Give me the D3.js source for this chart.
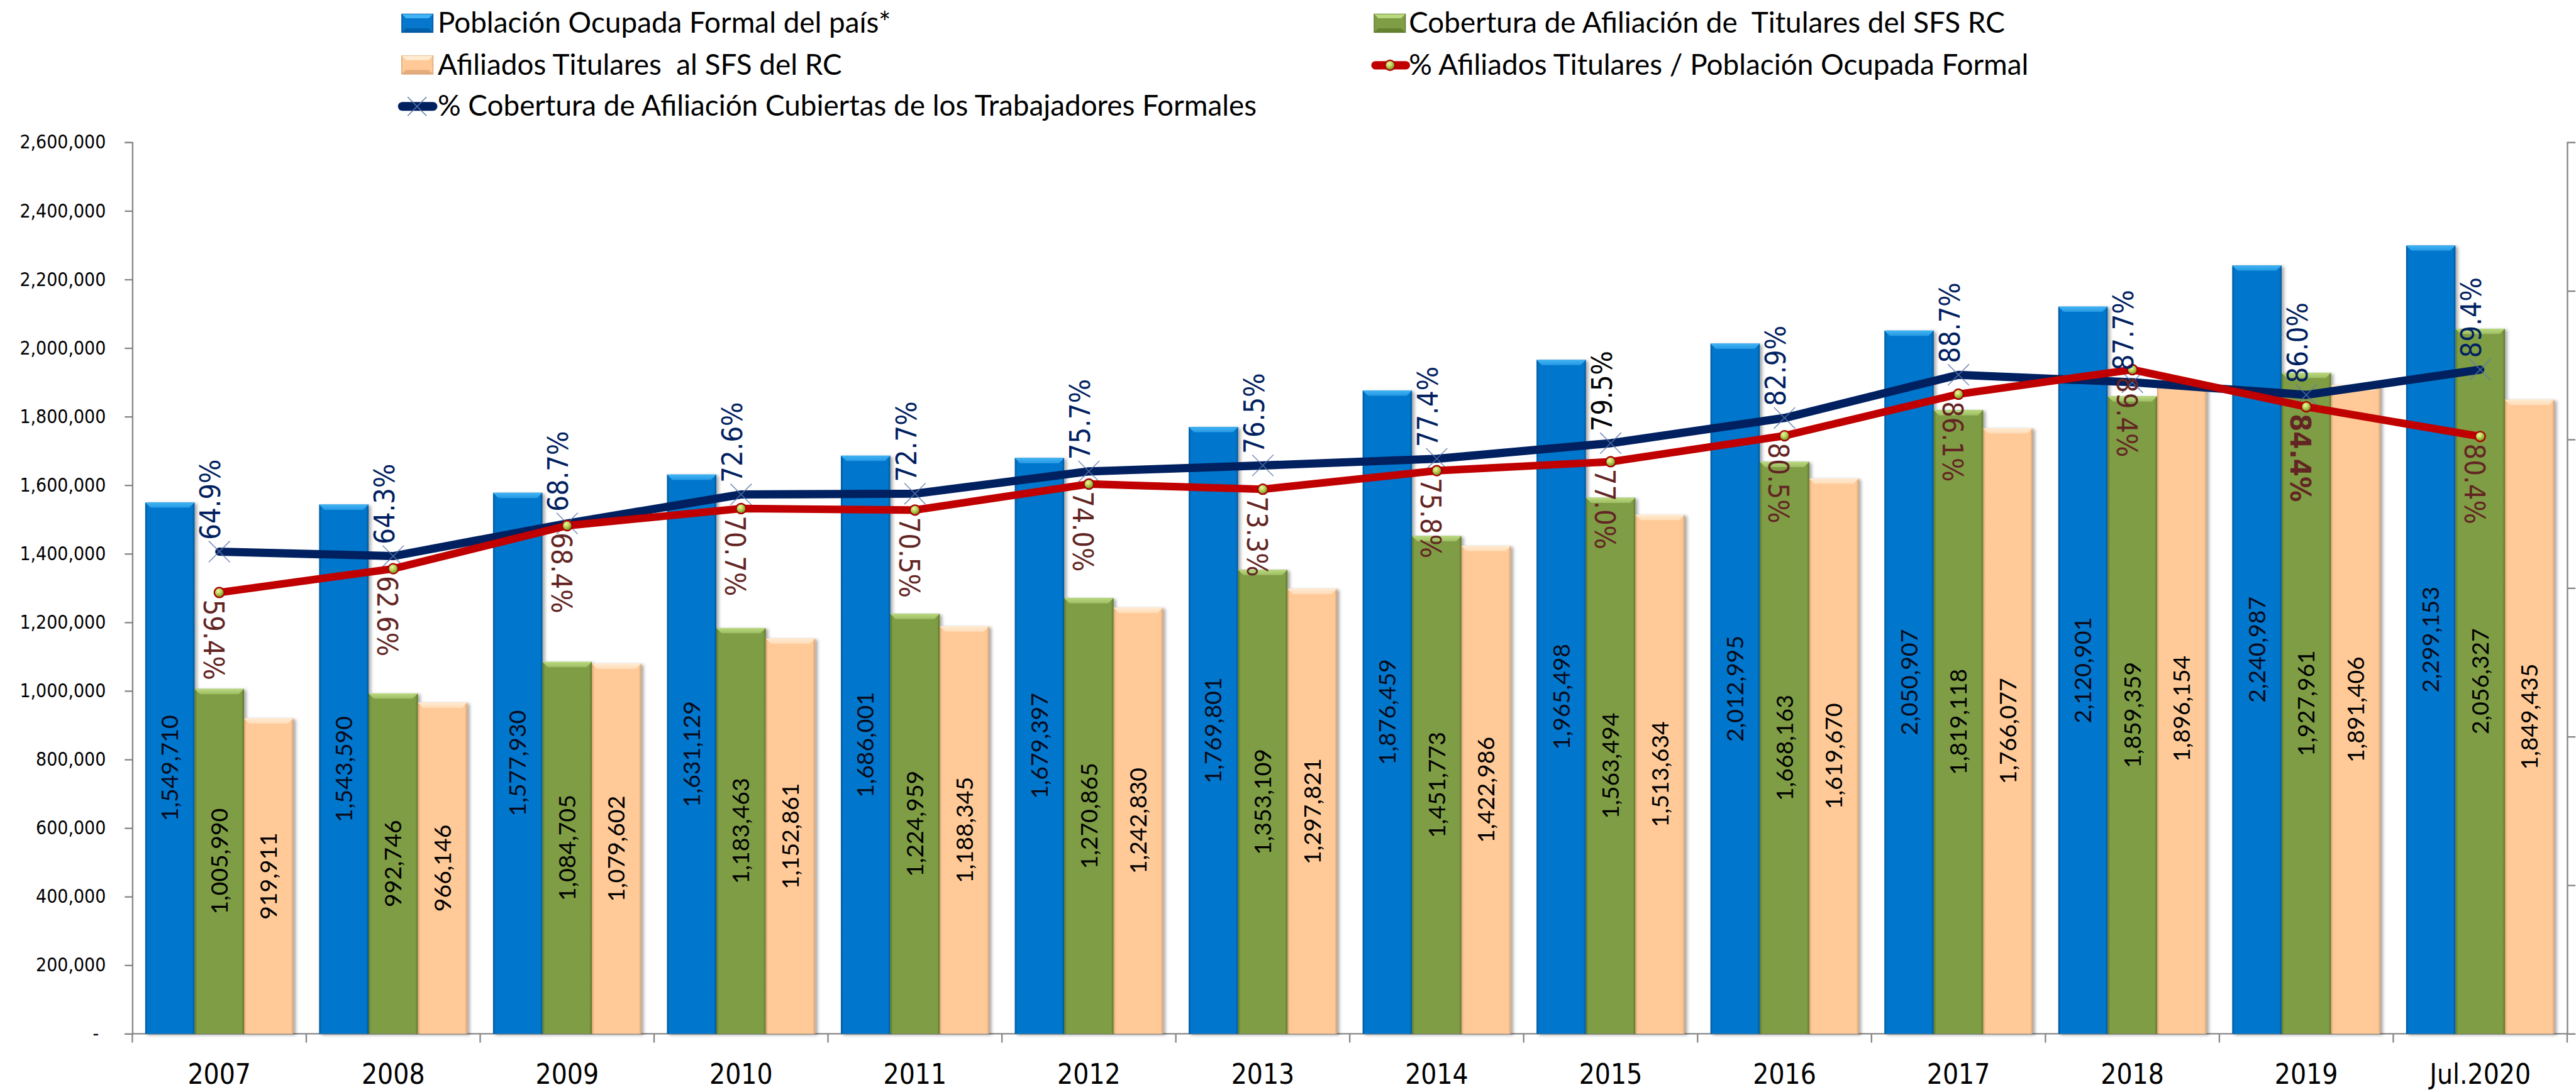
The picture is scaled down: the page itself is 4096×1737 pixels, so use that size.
<!DOCTYPE html>
<html>
<head>
<meta charset="utf-8">
<script src="https://cdn.jsdelivr.net/npm/d3@7"></script>
<style>
  html, body { margin: 0; padding: 0; background: #fff; overflow: hidden; }
</style>
</head>
<body>
<div id="chart"></div>
<script>
// ---- data ----
const categories = ["2007", "2008", "2009", "2010", "2011", "2012", "2013",
  "2014", "2015", "2016", "2017", "2018", "2019", "Jul.2020"];

const poblacionOcupada = [1549710, 1543590, 1577930, 1631129, 1686001, 1679397, 1769801,
  1876459, 1965498, 2012995, 2050907, 2120901, 2240987, 2299153];
const coberturaTitulares = [1005990, 992746, 1084705, 1183463, 1224959, 1270865, 1353109,
  1451773, 1563494, 1668163, 1819118, 1859359, 1927961, 2056327];
const afiliadosTitulares = [919911, 966146, 1079602, 1152861, 1188345, 1242830, 1297821,
  1422986, 1513634, 1619670, 1766077, 1896154, 1891406, 1849435];

const pctCobertura = [64.9, 64.3, 68.7, 72.6, 72.7, 75.7, 76.5, 77.4, 79.5, 82.9, 88.7, 87.7, 86.0, 89.4];
const pctAfiliados = [59.4, 62.6, 68.4, 70.7, 70.5, 74.0, 73.3, 75.8, 77.0, 80.5, 86.1, 89.4, 84.4, 80.4];

const yTicks = [0, 200000, 400000, 600000, 800000, 1000000, 1200000, 1400000,
  1600000, 1800000, 2000000, 2200000, 2400000, 2600000];
const pctTicks = [0, 0.2, 0.4, 0.6, 0.8, 1.0, 1.2];

const legendNames = [
  "Población Ocupada Formal del país*",
  "Cobertura de Afiliación de  Titulares del SFS RC",
  "Afiliados Titulares  al SFS del RC",
  "% Afiliados Titulares / Población Ocupada Formal",
  "% Cobertura de Afiliación Cubiertas de los Trabajadores Formales"
];

// ---- layout (reference pixel units, scaled to the window by the viewBox) ----
const W = 4379, H = 1857;
const plot = { left: 225, right: 4364, top: 242, bottom: 1758 };
const axisGrey = "#868686";
const condensed = "'DejaVu Sans Condensed', 'DejaVu Sans', sans-serif";
const labelFont = "Lato, 'Open Sans', sans-serif";

const series = [
  { id: "pob", values: poblacionOcupada, base: "#0677CC", light: "#41B4F5", dark: "#03559A", text: "#0a0a1a" },
  { id: "cob", values: coberturaTitulares, base: "#7F9D44", light: "#B9D97E", dark: "#5B7629", text: "#000" },
  { id: "afi", values: afiliadosTitulares, base: "#FFCA98", light: "#FFEBD2", dark: "#D8A070", text: "#000" }
];

const svg = d3.select("#chart").append("svg")
  .attr("width", 4096)
  .attr("height", 1737)
  .attr("viewBox", `0 0 ${W} ${H}`)
  .style("display", "block");

svg.append("rect").attr("width", W).attr("height", H).attr("fill", "#fff");

const defs = svg.append("defs");

series.forEach(s => {
  const side = defs.append("linearGradient").attr("id", "side-" + s.id)
    .attr("x1", 0).attr("x2", 1).attr("y1", 0).attr("y2", 0);
  side.append("stop").attr("offset", 0).attr("stop-color", s.dark);
  side.append("stop").attr("offset", 0.05).attr("stop-color", s.base);
  side.append("stop").attr("offset", 0.95).attr("stop-color", s.base);
  side.append("stop").attr("offset", 1).attr("stop-color", s.dark);

  const top = defs.append("linearGradient").attr("id", "top-" + s.id)
    .attr("x1", 0).attr("x2", 0).attr("y1", 0).attr("y2", 1);
  top.append("stop").attr("offset", 0).attr("stop-color", s.light);
  top.append("stop").attr("offset", 1).attr("stop-color", d3.interpolateRgb(s.light, s.base)(0.45));
});

const ball = defs.append("radialGradient").attr("id", "ball")
  .attr("cx", 0.4).attr("cy", 0.35).attr("r", 0.65);
ball.append("stop").attr("offset", 0).attr("stop-color", "#EEF7B0");
ball.append("stop").attr("offset", 0.5).attr("stop-color", "#B4CE4E");
ball.append("stop").attr("offset", 1).attr("stop-color", "#6E8A1E");

const shadow = defs.append("filter").attr("id", "shadow")
  .attr("x", "-10%").attr("y", "-5%").attr("width", "130%").attr("height", "110%");
shadow.append("feDropShadow").attr("dx", 4).attr("dy", 2)
  .attr("stdDeviation", 3).attr("flood-color", "#000").attr("flood-opacity", 0.35);

// ---- scales ----
const x = d3.scaleBand().domain(categories).range([plot.left, plot.right]).padding(0);
const x1 = d3.scaleBand().domain(series.map(s => s.id)).range([0, x.bandwidth()])
  .paddingInner(0).paddingOuter(0.26);
const y = d3.scaleLinear().domain([0, 2600000]).range([plot.bottom, plot.top]);
const yPct = d3.scaleLinear().domain([0, 1.2]).range([plot.bottom, plot.top]);
const cx = i => x(categories[i]) + x.bandwidth() / 2;

// ---- axes ----
const yAxis = svg.append("g")
  .attr("transform", `translate(${plot.left},0)`)
  .call(d3.axisLeft(y).tickValues(yTicks).tickSize(13).tickPadding(32)
    .tickFormat(d => d === 0 ? "-" : d3.format(",")(d)));
yAxis.select(".domain").attr("stroke", axisGrey).attr("stroke-width", 2.5);
yAxis.selectAll(".tick line").attr("stroke", axisGrey).attr("stroke-width", 2.5);
yAxis.selectAll(".tick text")
  .attr("font-family", condensed).attr("font-size", 32).attr("fill", "#000")
  .attr("dx", d => d === 0 ? -12 : 0);

const yAxisR = svg.append("g")
  .attr("transform", `translate(${plot.right},0)`)
  .call(d3.axisRight(yPct).tickValues(pctTicks).tickSize(14).tickFormat(""));
yAxisR.select(".domain").attr("stroke", axisGrey).attr("stroke-width", 2.5);
yAxisR.selectAll(".tick line").attr("stroke", axisGrey).attr("stroke-width", 2.5);

// x axis: baseline, boundary ticks, labels
const xAxis = svg.append("g");
xAxis.append("line")
  .attr("x1", plot.left).attr("x2", plot.right)
  .attr("y1", plot.bottom).attr("y2", plot.bottom)
  .attr("stroke", axisGrey).attr("stroke-width", 2.5);
const bounds = categories.map(c => x(c)).concat([x(categories[categories.length - 1]) + x.bandwidth()]);
xAxis.selectAll("line.tk").data(bounds).join("line").attr("class", "tk")
  .attr("x1", d => d).attr("x2", d => d)
  .attr("y1", plot.bottom).attr("y2", plot.bottom + 15)
  .attr("stroke", axisGrey).attr("stroke-width", 2.5);
xAxis.selectAll("text").data(categories).join("text")
  .attr("x", d => x(d) + x.bandwidth() / 2)
  .attr("y", 1843)
  .attr("text-anchor", "middle")
  .attr("font-family", condensed).attr("font-size", 47).attr("fill", "#000")
  .text(d => d);

// ---- bars ----
const bevel = 9;
series.forEach(s => {
  const g = svg.append("g").attr("class", "bars-" + s.id);
  const rows = s.values.map((v, i) => ({
    x0: x(categories[i]) + x1(s.id),
    w: x1.bandwidth(),
    y0: y(v),
    h: y(0) - y(v)
  }));
  g.selectAll("rect").data(rows).join("rect")
    .attr("x", d => d.x0).attr("y", d => d.y0)
    .attr("width", d => d.w).attr("height", d => d.h)
    .attr("fill", `url(#side-${s.id})`)
    .attr("filter", "url(#shadow)");
  g.selectAll("polygon").data(rows).join("polygon")
    .attr("points", d => [
      [d.x0, d.y0], [d.x0 + d.w, d.y0],
      [d.x0 + d.w - bevel, d.y0 + bevel], [d.x0 + bevel, d.y0 + bevel]
    ].join(" "))
    .attr("fill", `url(#top-${s.id})`);
});

// bar value labels
series.forEach(s => {
  svg.append("g").selectAll("text").data(s.values).join("text")
    .attr("transform", (v, i) => {
      const bx = x(categories[i]) + x1(s.id) + x1.bandwidth() / 2;
      const by = (y(v) + y(0)) / 2;
      return `translate(${bx},${by}) rotate(-90)`;
    })
    .attr("text-anchor", "middle")
    .attr("dy", "0.35em")
    .attr("font-family", labelFont).attr("font-size", 40)
    .attr("fill", s.text)
    .text(v => d3.format(",")(v));
});

// ---- lines ----
const lineGen = d3.line().x((d, i) => cx(i)).y(d => yPct(d / 100));

svg.append("path").datum(pctCobertura)
  .attr("d", lineGen)
  .attr("fill", "none").attr("stroke", "#002060").attr("stroke-width", 14)
  .attr("stroke-linejoin", "round").attr("stroke-linecap", "round");

svg.append("g").selectAll("path").data(pctCobertura).join("path")
  .attr("transform", (d, i) => `translate(${cx(i)},${yPct(d / 100)})`)
  .attr("d", "M-18,-18L18,18M18,-18L-18,18")
  .attr("stroke", "#5C78AC").attr("stroke-width", 1.6).attr("opacity", 0.85);

svg.append("path").datum(pctAfiliados)
  .attr("d", lineGen)
  .attr("fill", "none").attr("stroke", "#C00000").attr("stroke-width", 13)
  .attr("stroke-linejoin", "round").attr("stroke-linecap", "round");

svg.append("g").selectAll("circle").data(pctAfiliados).join("circle")
  .attr("cx", (d, i) => cx(i)).attr("cy", d => yPct(d / 100))
  .attr("r", 8.5)
  .attr("fill", "url(#ball)").attr("stroke", "#A80000").attr("stroke-width", 2.5);

// percent labels
const pctFmt = d => d.toFixed(1) + "%";
svg.append("g").selectAll("text").data(pctCobertura).join("text")
  .attr("transform", (d, i) => `translate(${cx(i) - 15},${yPct(d / 100) - 20}) rotate(-90)`)
  .attr("text-anchor", "start").attr("dy", "0.35em")
  .attr("font-family", condensed).attr("font-size", 48)
  .attr("fill", (d, i) => categories[i] === "2015" ? "#000" : "#002060")
  .text(pctFmt);

svg.append("g").selectAll("text").data(pctAfiliados).join("text")
  .attr("transform", (d, i) => `translate(${cx(i) - 10},${yPct(d / 100) + 12}) rotate(90)`)
  .attr("text-anchor", "start").attr("dy", "0.35em")
  .attr("font-family", condensed).attr("font-size", 48)
  .attr("font-weight", (d, i) => categories[i] === "2019" ? "bold" : "normal")
  .attr("fill", "#632523")
  .text(pctFmt);

// ---- legend ----
const legend = svg.append("g").attr("font-family", labelFont).attr("font-size", 49).attr("fill", "#000");

function legendBox(gx, gy, s) {
  const w = 53, h = 31, b = 7;
  const g = legend.append("g").attr("transform", `translate(${gx},${gy})`);
  g.append("rect").attr("width", w).attr("height", h).attr("fill", s.base)
    .attr("stroke", s.dark).attr("stroke-width", 1.5);
  g.append("polygon").attr("points", [[0, 0], [w, 0], [w - b, b], [b, b]].join(" "))
    .attr("fill", s.light);
  g.append("polygon").attr("points", [[0, h], [w, h], [w - b, h - b], [b, h - b]].join(" "))
    .attr("fill", s.dark).attr("opacity", 0.7);
}

legendBox(683, 24, series[0]);
legendBox(2336, 24, series[1]);
legendBox(683, 95, series[2]);

legend.append("line").attr("x1", 2338).attr("x2", 2390).attr("y1", 111).attr("y2", 111)
  .attr("stroke", "#C00000").attr("stroke-width", 14).attr("stroke-linecap", "round");
legend.append("circle").attr("cx", 2363).attr("cy", 111).attr("r", 8.5)
  .attr("fill", "url(#ball)").attr("stroke", "#A80000").attr("stroke-width", 2.5);

legend.append("line").attr("x1", 684).attr("x2", 736).attr("y1", 181).attr("y2", 181)
  .attr("stroke", "#002060").attr("stroke-width", 15).attr("stroke-linecap", "round");
legend.append("path").attr("transform", "translate(709,181)")
  .attr("d", "M-16,-16L16,16M16,-16L-16,16")
  .attr("stroke", "#5C78AC").attr("stroke-width", 1.6);

const legendText = [
  [744, 56, legendNames[0]],
  [2395, 56, legendNames[1]],
  [744, 127, legendNames[2]],
  [2395, 127, legendNames[3]],
  [744, 197, legendNames[4]]
];
legend.selectAll("text").data(legendText).join("text")
  .attr("x", d => d[0]).attr("y", d => d[1])
  .attr("xml:space", "preserve")
  .style("white-space", "pre")
  .text(d => d[2]);
</script>
</body>
</html>
